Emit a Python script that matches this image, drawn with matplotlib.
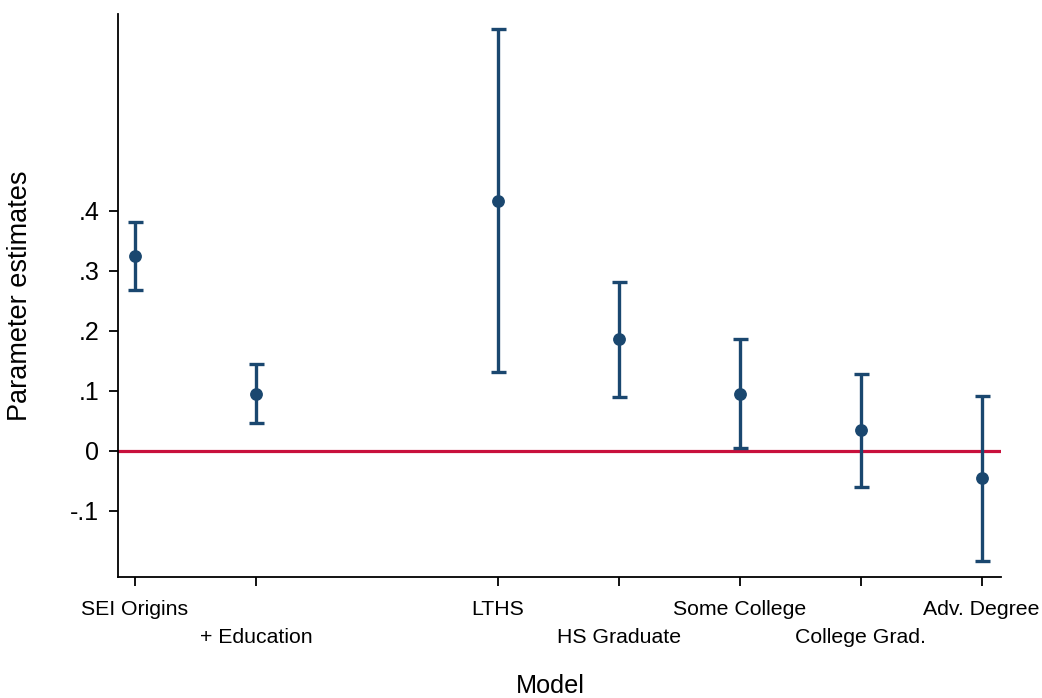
import matplotlib
matplotlib.use("Agg")
import matplotlib.pyplot as plt

# coefficient estimates with 95% bounds, one per model
models = ["SEI Origins", "+ Education", "LTHS", "HS Graduate",
          "Some College", "College Grad.", "Adv. Degree"]
positions = [1, 2, 4, 5, 6, 7, 8]
estimates = [0.325, 0.095, 0.417, 0.186, 0.095, 0.034, -0.045]
lower = [0.268, 0.047, 0.131, 0.090, 0.005, -0.060, -0.183]
upper = [0.381, 0.145, 0.702, 0.281, 0.187, 0.128, 0.092]

y_ticks = [-0.1, 0, 0.1, 0.2, 0.3, 0.4]
y_tick_labels = ["-.1", "0", ".1", ".2", ".3", ".4"]

navy = "#1a476f"
cranberry = "#c8103c"

plt.rcParams["font.family"] = ["Liberation Sans", "DejaVu Sans"]

fig = plt.figure(figsize=(10.42, 6.98), dpi=100)
ax = fig.add_axes([0.1132, 0.1734, 0.8475, 0.806])

err_lo = [e - l for e, l in zip(estimates, lower)]
err_hi = [u - e for e, u in zip(estimates, upper)]
ax.axhline(0, color=cranberry, lw=2.3, zorder=1)
ax.errorbar(positions, estimates, yerr=[err_lo, err_hi], fmt="o",
            color=navy, ms=8.2, elinewidth=2.4, capsize=5.4,
            capthick=2.4, zorder=3)

ax.set_xlim(0.86, 8.16)
ax.set_ylim(-0.21, 0.727)

ax.set_yticks(y_ticks)
ax.set_yticklabels(y_tick_labels, fontsize=18)
ax.set_xticks(positions)
# alternate label rows so the long names do not collide
staggered = [m if i % 2 == 0 else "\n" + m for i, m in enumerate(models)]
ax.set_xticklabels(staggered, fontsize=15.3, linespacing=1.62)

for side in ("top", "right"):
    ax.spines[side].set_visible(False)
for side in ("left", "bottom"):
    ax.spines[side].set_linewidth(1.3)
ax.tick_params(axis="both", direction="out", length=6.5, width=1.3)
ax.tick_params(axis="y", pad=7)
ax.tick_params(axis="x", pad=10)

ax.set_ylabel("Parameter estimates", fontsize=19.5)
ax.yaxis.set_label_coords(-0.096, 0.5)
ax.set_xlabel("Model", fontsize=18.2)
ax.xaxis.set_label_coords(0.49, -0.172)

fig.savefig("out.png", dpi=100)
